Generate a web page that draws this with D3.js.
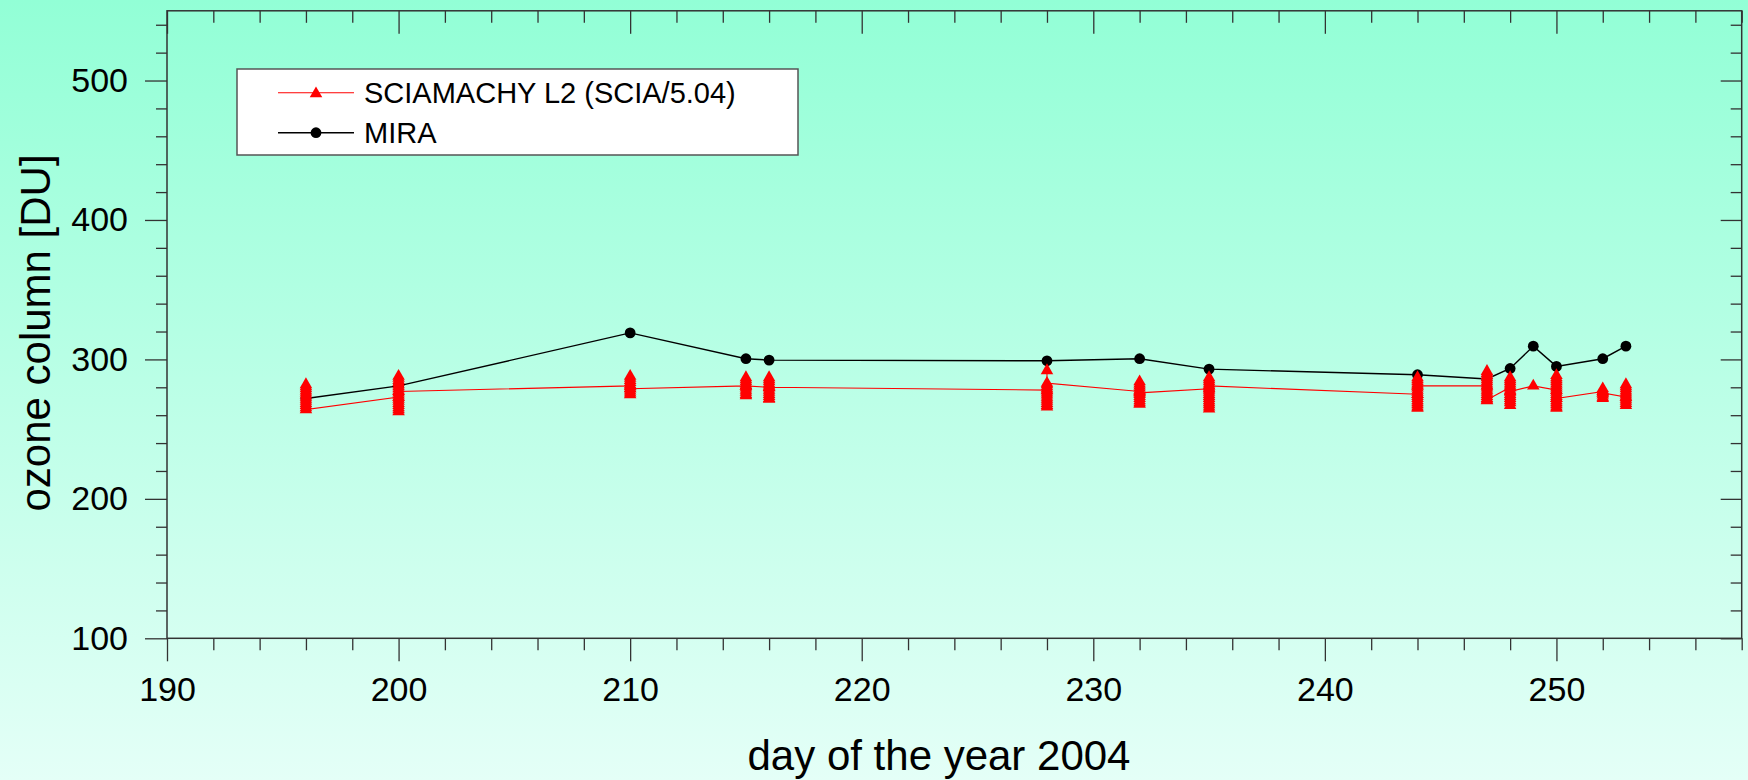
<!DOCTYPE html>
<html>
<head>
<meta charset="utf-8">
<script src="https://cdn.jsdelivr.net/npm/d3@7"></script>
<style>
  body { margin: 0; }
  svg { display: block; }
</style>
</head>
<body>
<div id="chart"></div>
<script>
// MIRA ground based ozone columns
const miraDays = [196, 200, 210, 215, 216, 228, 232, 235, 244, 247, 248, 249, 250, 252, 253];
const miraOzone = [272, 281, 319, 300.5, 299.5, 299, 300.5, 293, 289, 286, 293.5, 309.5, 295, 300.5, 309.5];

// SCIAMACHY L2 overpasses, several per day (in measurement order)
const sciaDays = [196, 200, 210, 215, 216, 228, 232, 235, 244, 247, 248, 249, 250, 252, 253];
const sciaOzone = [
  [282, 280.5, 279, 277.5, 276, 274.5, 273, 271.5, 270, 268.5, 267, 265.5, 264],
  [273, 288, 286.5, 285, 283.5, 282, 280.5, 279, 277.5, 276, 274.5, 273, 271.5, 270, 268.5, 267, 265.5, 264, 262.5, 277],
  [281, 288, 286.5, 285, 283.5, 282, 280.5, 279, 277.5, 276, 274.7, 279],
  [281, 287, 285.5, 284, 282.5, 281, 279.5, 278, 276.5, 275, 274, 281],
  [280, 287, 285.5, 284, 282.5, 281, 279.5, 278, 276.5, 275, 273.5, 272, 271.5, 280],
  [278, 292, 282, 280.5, 279, 277.5, 276, 274.5, 273, 271.5, 270, 268.5, 267, 266, 283],
  [277, 284, 282.5, 281, 279.5, 278, 276.5, 275, 273.5, 272, 270.5, 269, 268, 276],
  [279, 287, 285.5, 284, 282.5, 281, 279.5, 278, 276.5, 275, 273.5, 272, 270.5, 269, 267.5, 266, 264.5, 281],
  [275, 287, 285.5, 284, 282.5, 281, 279.5, 278, 276.5, 275, 273.5, 272, 270.5, 269, 267.5, 266, 265, 281],
  [281, 291.5, 290, 288.5, 287, 285.5, 284, 282.5, 281, 279.5, 278, 276.5, 275, 273.5, 272, 270.5, 271],
  [280, 287, 285.5, 284, 282.5, 281, 279.5, 278, 276.5, 275, 273.5, 272, 270.5, 269, 267, 277],
  [281],
  [278, 288.5, 287, 285.5, 284, 282.5, 281, 279.5, 278, 276.5, 275, 273.5, 272, 270.5, 269, 267.5, 266, 265, 272],
  [277, 279, 277.5, 276, 274.5, 273, 272, 276],
  [273, 282, 280.5, 279, 277.5, 276, 274.5, 273, 271.5, 270, 268.5, 267]
];

const xTicks = [190, 200, 210, 220, 230, 240, 250];
const yTicks = [100, 200, 300, 400, 500];
const legendLabels = ["SCIAMACHY L2 (SCIA/5.04)", "MIRA"];

const width = 1748,
      height = 780,
      margin = ({ top: 10.8, right: 6.3, bottom: 141.7, left: 167 });
const font = "'Liberation Sans', Arial, sans-serif";

const mira = miraDays.map((d, i) => ({ day: d, ozone: miraOzone[i] }));
const scia = sciaDays.flatMap((d, i) => sciaOzone[i].map(v => ({ day: d, ozone: v })));

let svg = d3.select("#chart")
            .append("svg")
            .attr("width", width)
            .attr("height", height);

// background gradient
const grad = svg.append("defs").append("linearGradient")
    .attr("id", "bg")
    .attr("x1", 0).attr("y1", 0).attr("x2", 0).attr("y2", 1);
grad.append("stop").attr("offset", 0).attr("stop-color", "#92ffd6");
grad.append("stop").attr("offset", 1).attr("stop-color", "#e4fff7");

svg.append("rect")
    .attr("width", width)
    .attr("height", height)
    .attr("fill", "url(#bg)");

const x = d3.scaleLinear()
            .domain([190, 258])
            .range([margin.left, width - margin.right]);

const y = d3.scaleLinear()
            .domain([100, 550])
            .range([height - margin.bottom, margin.top]);

const minorX = d3.range(192, 259, 2).filter(d => d % 10 !== 0);
const minorY = d3.range(120, 550, 20).filter(d => d % 100 !== 0);

const styleAxis = (g) => {
    g.select(".domain").remove();
    g.attr("font-family", font).attr("font-size", 34);
    g.selectAll("line").attr("stroke", "#333").attr("stroke-width", 1.3);
    g.selectAll("text").attr("fill", "#000");
};

// bottom axis
svg.append("g")
    .attr("transform", `translate(0, ${y(100)})`)
    .call(d3.axisBottom(x).tickValues(minorX).tickSize(12).tickFormat(""))
    .call(styleAxis);
svg.append("g")
    .attr("transform", `translate(0, ${y(100)})`)
    .call(d3.axisBottom(x).tickValues(xTicks).tickSize(23).tickPadding(16))
    .call(styleAxis);

// top axis (inward ticks)
svg.append("g")
    .attr("transform", `translate(0, ${y(550)})`)
    .call(d3.axisTop(x).tickValues(minorX).tickSize(-12).tickFormat(""))
    .call(styleAxis);
svg.append("g")
    .attr("transform", `translate(0, ${y(550)})`)
    .call(d3.axisTop(x).tickValues(xTicks).tickSize(-23).tickFormat(""))
    .call(styleAxis);

// left axis
svg.append("g")
    .attr("transform", `translate(${x(190)}, 0)`)
    .call(d3.axisLeft(y).tickValues(minorY).tickSize(11).tickFormat(""))
    .call(styleAxis);
svg.append("g")
    .attr("transform", `translate(${x(190)}, 0)`)
    .call(d3.axisLeft(y).tickValues(yTicks).tickSize(22).tickPadding(17))
    .call(styleAxis);

// right axis (inward ticks)
svg.append("g")
    .attr("transform", `translate(${x(258)}, 0)`)
    .call(d3.axisRight(y).tickValues(minorY).tickSize(-11).tickFormat(""))
    .call(styleAxis);
svg.append("g")
    .attr("transform", `translate(${x(258)}, 0)`)
    .call(d3.axisRight(y).tickValues(yTicks).tickSize(-21).tickFormat(""))
    .call(styleAxis);

// plot frame
svg.append("rect")
    .attr("x", x(190))
    .attr("y", y(550))
    .attr("width", x(258) - x(190))
    .attr("height", y(100) - y(550))
    .attr("fill", "none")
    .attr("stroke", "#333")
    .attr("stroke-width", 1.5);

// axis titles
svg.append("text")
    .attr("x", 939)
    .attr("y", 770)
    .attr("text-anchor", "middle")
    .attr("font-family", font)
    .attr("font-size", 42)
    .text("day of the year 2004");

svg.append("text")
    .attr("transform", "translate(50, 333) rotate(-90)")
    .attr("text-anchor", "middle")
    .attr("font-family", font)
    .attr("font-size", 42)
    .text("ozone column [DU]");

const line = d3.line()
    .x(d => x(d.day))
    .y(d => y(d.ozone));

const tri = d3.symbol().type(d3.symbolTriangle).size(68);

// MIRA
svg.append("path")
    .datum(mira)
    .attr("fill", "none")
    .attr("stroke", "#000")
    .attr("stroke-width", 1.4)
    .attr("d", line);

svg.selectAll(".mira")
    .data(mira)
    .join("circle")
    .attr("class", "mira")
    .attr("cx", d => x(d.day))
    .attr("cy", d => y(d.ozone))
    .attr("r", 5.4)
    .attr("fill", "#000");

// SCIAMACHY
svg.append("path")
    .datum(scia)
    .attr("fill", "none")
    .attr("stroke", "#ff0000")
    .attr("stroke-width", 1.1)
    .attr("d", line);

svg.selectAll(".scia")
    .data(scia)
    .join("path")
    .attr("class", "scia")
    .attr("transform", d => `translate(${x(d.day)}, ${y(d.ozone)})`)
    .attr("d", tri)
    .attr("fill", "#ff0000");

// legend
const legend = svg.append("g");
legend.append("rect")
    .attr("x", 237)
    .attr("y", 69)
    .attr("width", 561)
    .attr("height", 86)
    .attr("fill", "#fff")
    .attr("stroke", "#555")
    .attr("stroke-width", 1.5);

const rows = [
  { label: legendLabels[0], color: "#ff0000", cy: 92.7, sym: "tri" },
  { label: legendLabels[1], color: "#000", cy: 132.7, sym: "circle" }
];

rows.forEach(r => {
    legend.append("line")
        .attr("x1", 278).attr("x2", 354)
        .attr("y1", r.cy).attr("y2", r.cy)
        .attr("stroke", r.color)
        .attr("stroke-width", r.sym === "tri" ? 1.1 : 1.4);
    if (r.sym === "tri") {
        legend.append("path")
            .attr("transform", `translate(316, ${r.cy + 1})`)
            .attr("d", tri)
            .attr("fill", r.color);
    } else {
        legend.append("circle")
            .attr("cx", 316).attr("cy", r.cy)
            .attr("r", 5.4)
            .attr("fill", r.color);
    }
    legend.append("text")
        .attr("x", 364)
        .attr("y", r.cy + 10.3)
        .attr("font-family", font)
        .attr("font-size", 29)
        .text(r.label);
});
</script>
</body>
</html>
